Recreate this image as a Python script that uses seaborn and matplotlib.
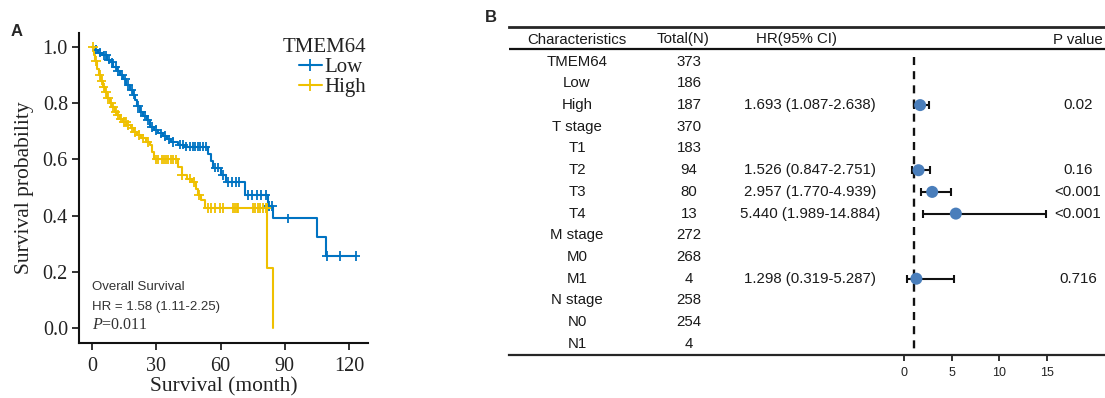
import numpy as np
import pandas as pd
import matplotlib
matplotlib.use("Agg")
import matplotlib.pyplot as plt
from matplotlib.lines import Line2D
import seaborn as sns

# ---------------- Kaplan-Meier data (months, survival probability) ----------------
low_time = [0, 1.5, 3, 5, 7, 8.5, 10, 11.5, 13, 14.5, 16, 17.5, 19, 20, 21, 22.5, 24,
            25.5, 27, 29, 31, 33, 35, 37, 40, 43, 54, 55.5, 56.6, 60, 62.5, 71.4, 82,
            84.5, 105, 109, 123]
low_surv = [1.0, 0.99, 0.98, 0.97, 0.955, 0.945, 0.93, 0.915, 0.90, 0.885, 0.865, 0.848,
            0.83, 0.81, 0.79, 0.77, 0.755, 0.74, 0.715, 0.705, 0.693, 0.683, 0.672, 0.662,
            0.652, 0.645, 0.62, 0.595, 0.57, 0.545, 0.52, 0.473, 0.434, 0.39, 0.324,
            0.256, 0.256]
low_censor = [2, 3.5, 5.5, 6.5, 8, 9.5, 11, 12, 14, 15.5, 17, 18.5, 19.5, 21.5, 23, 24.5,
              26, 28, 30, 32, 34, 36, 38, 41, 42.5, 44, 45.5, 47, 48, 49.5, 50.5, 52, 53,
              57.5, 59, 61, 63.5, 65.5, 67, 68.5, 73, 74.5, 77, 79, 81, 82.5, 84, 91.5,
              109.7, 115.7, 123]

high_time = [0, 0.8, 1.5, 2.5, 3.2, 4, 5, 6, 7, 8.4, 9.5, 10.5, 11.6, 13, 14.5, 16.3, 18,
             19.5, 21, 23, 25, 27, 28, 29, 40, 42, 44.5, 46.7, 48.5, 49.5, 51, 52.7, 81.7,
             84.5]
high_surv = [1.0, 0.97, 0.95, 0.92, 0.90, 0.88, 0.856, 0.84, 0.82, 0.80, 0.785, 0.77,
             0.758, 0.745, 0.733, 0.722, 0.71, 0.698, 0.687, 0.675, 0.662, 0.65, 0.625,
             0.6, 0.573, 0.545, 0.532, 0.52, 0.495, 0.473, 0.455, 0.427, 0.213, 0.0]
high_censor = [0.5, 1.8, 3.5, 4.5, 5.5, 6.5, 7.5, 9, 10, 11, 12, 13.5, 15, 16, 17, 18.5,
               20, 22, 24, 26, 30, 31, 32.5, 33.5, 34.5, 35.5, 37, 38, 39, 42, 45.7, 47.5,
               50, 54, 55.5, 57.4, 59.7, 61, 65.8, 66.5, 67.5, 68, 75, 76, 77.5, 78.5, 80,
               81, 81.5]

group_names = ["Low", "High"]
group_colors = {"Low": "#0073C2", "High": "#EFC000"}
x_ticks_km = [0, 30, 60, 90, 120]
y_ticks_km = [0.0, 0.2, 0.4, 0.6, 0.8, 1.0]

# ---------------- Univariate Cox regression table ----------------
characteristics = ["TMEM64", "Low", "High", "T stage", "T1", "T2", "T3", "T4",
                   "M stage", "M0", "M1", "N stage", "N0", "N1"]
totals = [373, 186, 187, 370, 183, 94, 80, 13, 272, 268, 4, 258, 254, 4]
hr_rows = ["High", "T2", "T3", "T4", "M1"]
hr_est = [1.693, 1.526, 2.957, 5.440, 1.298]
hr_low = [1.087, 0.847, 1.770, 1.989, 0.319]
hr_high = [2.638, 2.751, 4.939, 14.884, 5.287]
p_values = ["0.02", "0.16", "<0.001", "<0.001", "0.716"]
forest_ticks = [0, 5, 10, 15]

# ---------------- Style ----------------
sns.set_style("ticks")
plt.rcParams["font.family"] = ["Liberation Serif", "DejaVu Serif"]
plt.rcParams["mathtext.fontset"] = "custom"
plt.rcParams["mathtext.rm"] = "Liberation Serif"
plt.rcParams["mathtext.it"] = "Liberation Serif:italic"
SANS = ["Liberation Sans", "DejaVu Sans"]

W, H = 1105, 398
fig = plt.figure(figsize=(W / 100, H / 100), dpi=100)


def fx(px):
    return px / W


def fy(py):
    return 1 - py / H


# ================= Panel A: Kaplan-Meier curves =================
ax1 = fig.add_axes([fx(79), fy(343), fx(368 - 79), (343 - 33) / H])

curve = pd.concat([
    pd.DataFrame({"time": low_time, "surv": low_surv, "group": "Low"}),
    pd.DataFrame({"time": high_time, "surv": high_surv, "group": "High"}),
], ignore_index=True)


def surv_at(times, survs, t):
    idx = np.searchsorted(np.asarray(times), t, side="right") - 1
    return np.asarray(survs)[idx]


censor = pd.concat([
    pd.DataFrame({"time": low_censor,
                  "surv": surv_at(low_time, low_surv, low_censor), "group": "Low"}),
    pd.DataFrame({"time": high_censor,
                  "surv": surv_at(high_time, high_surv, high_censor), "group": "High"}),
], ignore_index=True)

sns.lineplot(data=curve, x="time", y="surv", hue="group", hue_order=group_names,
             palette=group_colors, estimator=None, sort=True, drawstyle="steps-post",
             linewidth=1.5, legend=False, ax=ax1)
sns.scatterplot(data=censor, x="time", y="surv", hue="group", hue_order=group_names,
                palette=group_colors, marker="+", s=45, linewidth=1.3, legend=False,
                ax=ax1, zorder=3)

ax1.set_xlim(-6.07, 128.8)
ax1.set_ylim(-0.0534, 1.0498)
ax1.set_xticks(x_ticks_km)
ax1.set_yticks(y_ticks_km)
ax1.set_yticklabels([f"{v:.1f}" for v in y_ticks_km])
ax1.tick_params(axis="both", labelsize=14.5, length=5, width=1.3, direction="out",
                colors="#222222", pad=3)
ax1.tick_params(axis="x", pad=5)
for s in ["top", "right"]:
    ax1.spines[s].set_visible(False)
for s in ["left", "bottom"]:
    ax1.spines[s].set_linewidth(1.5)
    ax1.spines[s].set_color("#111111")
ax1.set_xlabel("Survival (month)", fontsize=15.5, labelpad=1, color="#222222")
ax1.set_ylabel("Survival probability", fontsize=15.5, labelpad=6, color="#222222")

handles = [Line2D([], [], color=group_colors[g], lw=1.5, marker="+", markersize=9,
                  markeredgewidth=1.3) for g in group_names]
leg = ax1.legend(handles, group_names, title="TMEM64", loc="upper right",
                 bbox_to_anchor=(0.995, 0.985), frameon=False, fontsize=15,
                 title_fontsize=15, alignment="right", handlelength=1.1,
                 handletextpad=0.15, labelspacing=0.03, borderaxespad=0,
                 borderpad=0)
for t in leg.get_texts():
    t.set_color("#222222")
leg.get_title().set_color("#222222")

ax1.text(0, 0.147, "Overall Survival", fontsize=9.5, family=SANS, color="#333333",
         ha="left", va="center")
ax1.text(0, 0.076, "HR = 1.58 (1.11-2.25)", fontsize=9.5, family=SANS, color="#333333",
         ha="left", va="center")
ax1.text(0, 0.01, r"$\mathit{P}$=0.011", fontsize=11.5, color="#333333",
         ha="left", va="center")

fig.text(fx(17), fy(31), "A", fontsize=12, fontweight="bold", family=SANS,
         ha="center", va="center")

# ================= Panel B: forest plot with table =================
X0_PX, X_SCALE = 904.0, 9.53       # pixel of HR = 0 and pixels per HR unit
ROW0_PX, ROW_STEP = 61.7, 21.7     # first row centre and row spacing
ax_left, ax_right, ax_top, ax_bot = 509, 1105, 27.3, 355

ax2 = fig.add_axes([fx(ax_left), fy(ax_bot), fx(ax_right - ax_left),
                    (ax_bot - ax_top) / H])


def to_hr(px):
    return (px - X0_PX) / X_SCALE


def to_row(py):
    return (py - ROW0_PX) / ROW_STEP


ax2.set_xlim(to_hr(ax_left), to_hr(ax_right))
ax2.set_ylim(to_row(ax_bot), to_row(ax_top))

rows = {name: i for i, name in enumerate(characteristics)}
forest = pd.DataFrame({"row": [rows[r] for r in hr_rows], "hr": hr_est,
                       "lo": hr_low, "hi": hr_high, "p": p_values})

# reference line at HR = 1
ax2.plot([1, 1], [to_row(57), to_row(ax_bot)], color="#111111", lw=1.7,
         linestyle=(0, (3.4, 2.6)), zorder=1)

ax2.errorbar(forest["hr"], forest["row"],
             xerr=[forest["hr"] - forest["lo"], forest["hi"] - forest["hr"]],
             fmt="none", ecolor="#111111", elinewidth=1.5, capsize=3.2, capthick=1.5,
             zorder=2)
sns.scatterplot(data=forest, x="hr", y="row", color="#4A7EBB", s=75, edgecolor="none",
                ax=ax2, zorder=3, legend=False)

ax2.set_xticks(forest_ticks)
ax2.set_yticks([])
ax2.set_xlabel("")
ax2.set_ylabel("")
ax2.tick_params(axis="x", labelsize=9, length=4.5, width=1.3, direction="out", pad=4,
                colors="#222222")
for lab in ax2.get_xticklabels():
    lab.set_family(SANS)
ax2.spines["left"].set_visible(False)
ax2.spines["right"].set_visible(False)
ax2.spines["top"].set_linewidth(2.0)
ax2.spines["bottom"].set_linewidth(1.6)
ax2.axhline(to_row(49.3), color="#111111", lw=1.6)

col_char = to_hr(577)
col_total_head, col_total = to_hr(683), to_hr(689)
col_hr_head, col_hr = to_hr(797), to_hr(810)
col_p = to_hr(1078)
head_row = to_row(39.5)
tk = dict(family=SANS, fontsize=10.8, color="#1a1a1a", va="center", ha="center")

ax2.text(col_char, head_row, "Characteristics", **tk)
ax2.text(col_total_head, head_row, "Total(N)", **tk)
ax2.text(col_hr_head, head_row, "HR(95% CI)", **tk)
ax2.text(col_p, head_row, "P value", **tk)

for i, (name, n) in enumerate(zip(characteristics, totals)):
    ax2.text(col_char, i, name, **tk)
    ax2.text(col_total, i, str(n), **tk)

for _, r in forest.iterrows():
    ax2.text(col_hr, r["row"], f"{r['hr']:.3f} ({r['lo']:.3f}-{r['hi']:.3f})", **tk)
    ax2.text(col_p, r["row"], r["p"], **tk)

fig.text(fx(491), fy(18), "B", fontsize=12, fontweight="bold", family=SANS,
         ha="center", va="center")

fig.savefig("out.png", dpi=100)
